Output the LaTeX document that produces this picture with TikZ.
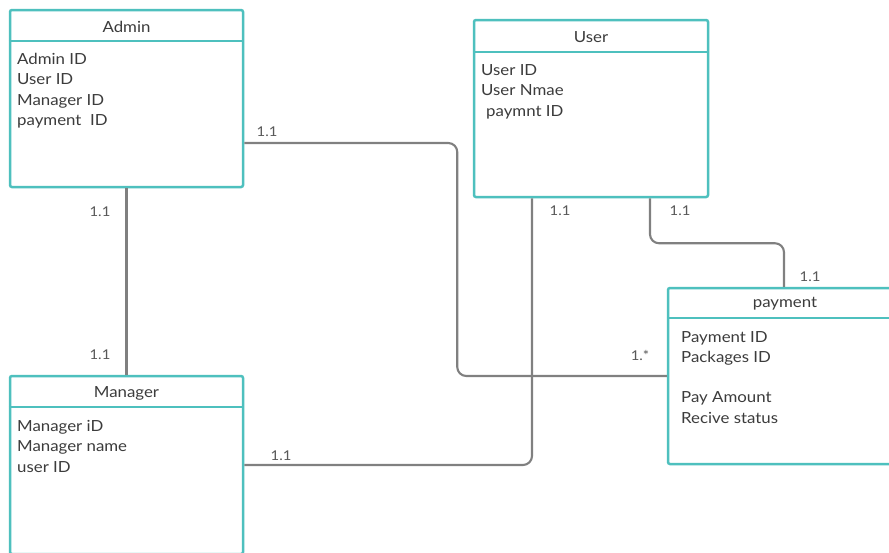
\documentclass[tikz,border=0pt]{standalone}
\usepackage{fontspec}
\setmainfont[FakeStretch=1.1]{Lato}
\usetikzlibrary{calc}
\definecolor{teal1}{RGB}{78,192,190}
\definecolor{lgray}{RGB}{128,128,128}
\definecolor{txt}{RGB}{60,60,60}
\tikzset{
  entity/.style={draw=teal1, line width=2.5pt, rounded corners=2pt, fill=white, inner sep=0pt},
  hline/.style={draw=teal1, line width=2pt},
  conn/.style={draw=lgray, line width=2.1pt, rounded corners=9pt},
  title/.style={text=txt, font=\fontsize{15.3}{18}\selectfont, inner sep=0pt},
  attr/.style={text=txt, font=\fontsize{15.3}{18}\selectfont, inner sep=0pt, anchor=base west},
  card/.style={text=txt!85, font=\fontsize{13.5}{15}\selectfont, inner sep=0pt}
}
\begin{document}
\begin{tikzpicture}[x=1pt,y=-1pt]
\useasboundingbox (0,0) rectangle (889,552);
\clip (0,0) rectangle (889,552);
\fill[white] (0,0) rectangle (889,552);

% boxes
\node[entity, minimum width=233pt, minimum height=177pt] (admin) at (126.5,98.5) {};
\node[entity, minimum width=234pt, minimum height=177pt] (user) at (591,108.5) {};
\node[entity, minimum width=234pt, minimum height=176pt] (pay) at (785,376) {};
\node[entity, minimum width=233pt, minimum height=178pt] (manager) at (126.5,465) {};

% connectors
\draw[conn] ([yshift=-44.5pt]admin.east) -- ++(213,0) |- (pay.west);
\draw[conn] (admin.south) -- (manager.north);
\draw[conn] (manager.east) -| ([xshift=-59pt]user.south);
\draw[conn] ([xshift=59pt]user.south) -- ++(0,45) -| ([xshift=-1pt]pay.north);

% header separators
\draw[hline] ([yshift=-32pt]admin.north west) -- ([yshift=-32pt]admin.north east);
\draw[hline] ([yshift=-33pt]user.north west) -- ([yshift=-33pt]user.north east);
\draw[hline] ([yshift=-31pt]pay.north west) -- ([yshift=-31pt]pay.north east);
\draw[hline] ([yshift=-32pt]manager.north west) -- ([yshift=-32pt]manager.north east);

% titles
\node[title] (tadmin) at (126.5,26.5) {Admin};
\node[title] (tuser) at (591,37.5) {User};
\node[title] (tpay) at (785,304) {payment};
\node[title] (tmanager) at (126.5,393.5) {Manager};

% attributes
\node[attr] (a1) at (17,64) {Admin ID};
\node[attr] (a2) at (17,84.5) {User ID};
\node[attr] (a3) at (17,105) {Manager ID};
\node[attr] (a4) at (17,125.5) {payment~ ID};

\node[attr] (u1) at (481,75) {User ID};
\node[attr] (u2) at (481,95.5) {User Nmae};
\node[attr] (u3) at (486,116) {paymnt ID};

\node[attr] (p1) at (681,342) {Payment ID};
\node[attr] (p2) at (681,362) {Packages ID};
\node[attr] (p3) at (681,402) {Pay Amount};
\node[attr] (p4) at (681,423) {Recive status};

\node[attr] (m1) at (17,431) {Manager iD};
\node[attr] (m2) at (17,451.5) {Manager name};
\node[attr] (m3) at (17,472) {user ID};

% cardinalities
\node[card] (c1) at (267,132) {1.1};
\node[card] (c2) at (640,355) {1.*};
\node[card] (c3) at (100,212) {1.1};
\node[card] (c4) at (100,355) {1.1};
\node[card] (c5) at (281,456) {1.1};
\node[card] (c6) at (560,211) {1.1};
\node[card] (c7) at (680,211) {1.1};
\node[card] (c8) at (810,277) {1.1};
\end{tikzpicture}
\end{document}
